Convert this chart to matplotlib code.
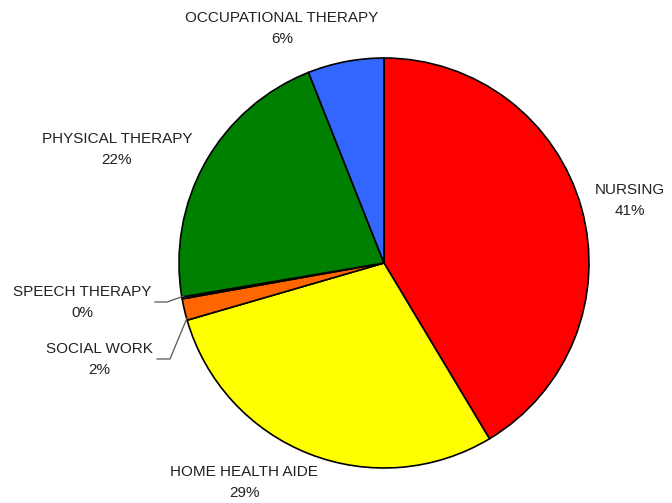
import matplotlib
matplotlib.use("Agg")
import matplotlib.pyplot as plt

labels = ["NURSING", "HOME HEALTH AIDE", "SOCIAL WORK", "SPEECH THERAPY",
          "PHYSICAL THERAPY", "OCCUPATIONAL THERAPY"]
values = [41.4, 29.1, 1.7, 0.15, 21.65, 6.0]
pct_text = ["41%", "29%", "2%", "0%", "22%", "6%"]
colors = ["#FF0000", "#FFFF00", "#FF6600", "#9999FF", "#008000", "#3366FF"]

# label centres in pixels (x, y of first line)
label_px = [(630, 190), (244, 472), (99, 349), (82, 292), (117, 139), (282, 18)]

W, H = 672, 503
CX, CY, R = 384, 263, 205


def px(x, y):
    return (x - CX) / R, (CY - y) / R


plt.rcParams['font.family'] = ['Liberation Sans', 'DejaVu Sans']
fig = plt.figure(figsize=(W / 100, H / 100), dpi=100)
ax = fig.add_axes([0, 0, 1, 1])

ax.pie(values, colors=colors, startangle=90, counterclock=False,
       wedgeprops=dict(edgecolor="black", linewidth=1.2))
ax.set_aspect('auto')
ax.set_xlim(-CX / R, (W - CX) / R)
ax.set_ylim(-(H - CY) / R, CY / R)
ax.axis('off')

for lab, pt, (x, y) in zip(labels, pct_text, label_px):
    tx, ty = px(x, y)
    ax.text(tx, ty, lab, ha='center', va='center', fontsize=11, color="#222222")
    tx2, ty2 = px(x, y + 21)
    ax.text(tx2, ty2, pt, ha='center', va='center', fontsize=11, color="#222222")

# leader lines for the small slices
for pts in [[(184, 296), (167, 302), (155, 302)],
            [(187, 318), (170, 359), (157, 359)]]:
    xs, ys = zip(*[px(a, b) for a, b in pts])
    ax.plot(xs, ys, color="#555555", linewidth=0.9)

fig.savefig("out.png", dpi=100)
